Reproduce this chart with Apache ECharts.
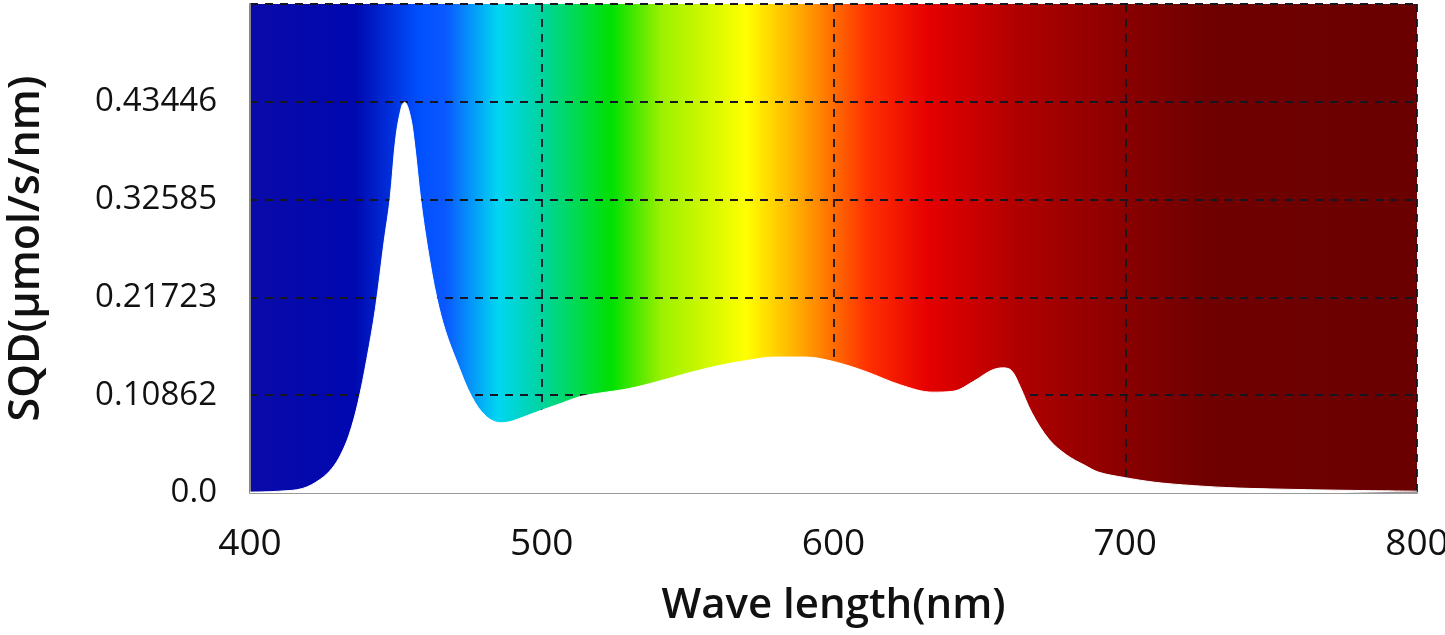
<!DOCTYPE html>
<html>
<head>
<meta charset="utf-8">
<script src="https://cdn.jsdelivr.net/npm/echarts@6/dist/echarts.min.js"></script>
<style>
html,body{margin:0;padding:0;background:#fff;}
#chart{width:1445px;height:635px;}
</style>
</head>
<body>
<div id="chart"></div>
<script>
// Wavelengths (nm) and spectral quantum distribution values
const wavelengths = [400,410,418,424,428,431,434,437,440,443,446,448,450,452,453,455,456.5,458.5,461,464,467,471,476,481,486,490,495,500,507,513,520,530,540,550,560,570,580,590,600,611,623,634,641,648,654,658,661,664,668,674,680,686,691,700,710,720,735,750,775,800];
const sqd = [0.001,0.002,0.005,0.015,0.027,0.042,0.065,0.100,0.148,0.205,0.280,0.326,0.395,0.430,0.434,0.418,0.385,0.326,0.270,0.217,0.180,0.145,0.107,0.085,0.078,0.080,0.086,0.092,0.100,0.107,0.111,0.116,0.124,0.133,0.141,0.147,0.151,0.151,0.146,0.135,0.120,0.112,0.113,0.124,0.136,0.139,0.136,0.118,0.089,0.059,0.042,0.031,0.023,0.017,0.012,0.009,0.006,0.0045,0.003,0.002];
const yTickLabels = ['0.0','0.10862','0.21723','0.32585','0.43446',''];
const xTickLabels = ['400','500','600','700','800'];
// spectrum background colour stops (wavelength, colour)
const spectrumNm = [400,436,458,467,485,500,524,541,570,587,600,612,632,663,701,727,800];
const spectrumColors = ['#0a0aa8','#0008b0','#0050ff','#0a58ff','#00d6f2','#00d4a0','#00e000','#9cf000','#ffff00','#ffb000','#ff6c00','#ff3000','#e60000','#b00000','#880000','#700000','#6a0000'];

const xMin = 400, xMax = 800;
const yStep = 0.108615;

const chart = echarts.init(document.getElementById('chart'), null, {renderer:'canvas'});
const points = wavelengths.map((w,i)=>[w, sqd[i]]);
const stops = spectrumNm.map((w,i)=>({offset:(w-xMin)/(xMax-xMin), color:spectrumColors[i]}));

const gridLine = {show:true, lineStyle:{color:'#161622', width:1.8, type:[8,7]}};

chart.setOption({
  animation:false,
  backgroundColor:'#ffffff',
  grid:{
    left:250, right:28, top:4, bottom:142,
    outerBoundsMode:'none', containLabel:false,
    show:true, borderWidth:0,
    backgroundColor:{type:'linear', x:0, y:0, x2:1, y2:0, colorStops:stops}
  },
  xAxis:{
    type:'value', min:xMin, max:xMax, interval:100,
    name:'Wave length(nm)', nameLocation:'middle', nameGap:92,
    nameTextStyle:{fontFamily:'Open Sans', fontSize:42, fontWeight:600, color:'#111'},
    axisLine:{show:true, onZero:false, lineStyle:{color:'#999', width:2}},
    axisTick:{show:false},
    axisLabel:{
      margin:33, fontFamily:'Open Sans', fontSize:37, color:'#111',
      formatter:(v,i)=>xTickLabels[i] ?? ''
    },
    splitLine:gridLine
  },
  yAxis:{
    type:'value', min:0, max:yStep*5, interval:yStep,
    name:'SQD(μmol/s/nm)', nameLocation:'middle', nameGap:202, nameRotate:90,
    nameTextStyle:{fontFamily:'Open Sans', fontSize:43, fontWeight:600, color:'#111'},
    axisLine:{show:true, lineStyle:{color:'#888', width:2}},
    axisTick:{show:false},
    axisLabel:{
      margin:33, fontFamily:'Open Sans', fontSize:33, color:'#111',
      formatter:(v,i)=>yTickLabels[i] ?? ''
    },
    splitLine:gridLine
  },
  series:[{
    type:'line',
    data:points,
    smooth:0.35,
    showSymbol:false,
    symbol:'none',
    lineStyle:{color:'#ffffff', width:1},
    areaStyle:{color:'#ffffff', opacity:1},
    z:3
  }]
});
</script>
</body>
</html>
